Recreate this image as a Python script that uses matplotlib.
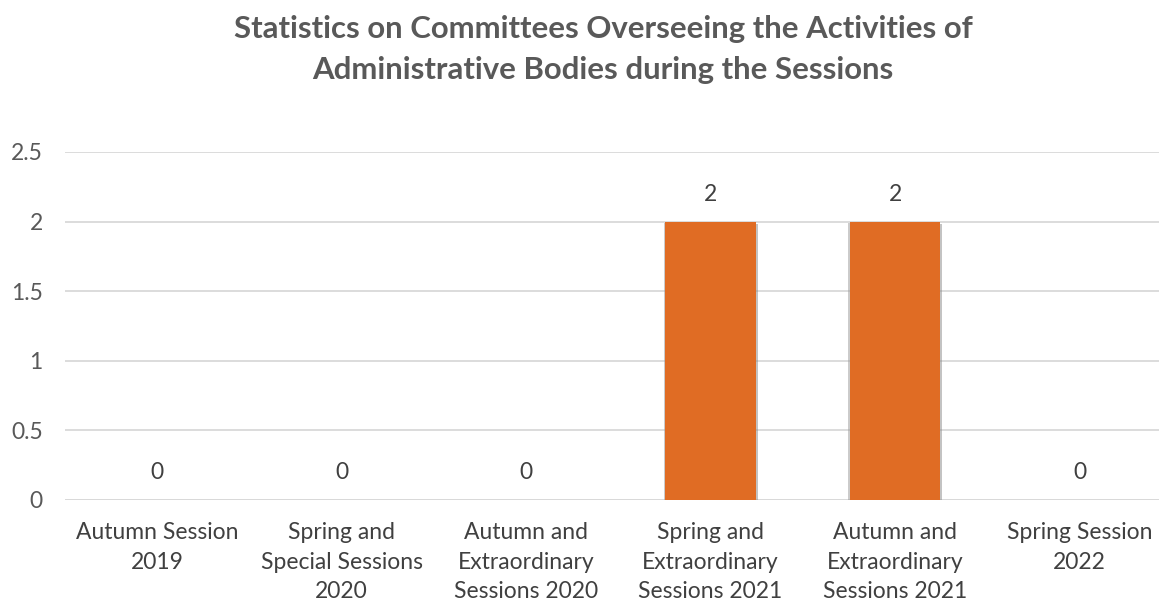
import matplotlib.pyplot as plt
import matplotlib.patheffects as pe

plt.rcParams['font.family'] = ['Lato', 'DejaVu Sans']

sessions = ['Autumn Session\n2019', 'Spring and\nSpecial Sessions\n2020',
            'Autumn and\nExtraordinary\nSessions 2020', 'Spring and\nExtraordinary\nSessions 2021',
            'Autumn and\nExtraordinary\nSessions 2021', 'Spring Session\n2022']
committees = [0, 0, 0, 2, 2, 0]
yticks = [0, 0.5, 1, 1.5, 2, 2.5]
yticklabels = ['0', '0.5', '1', '1.5', '2', '2.5']

fig = plt.figure(figsize=(11.59, 6.03), dpi=100)
ax = fig.add_axes([0.056, 0.171, 0.955, 0.577])

x = range(len(sessions))
bars = ax.bar(x, committees, width=0.49, color='#e06c24', zorder=3)
for b in bars:
    b.set_path_effects([pe.SimplePatchShadow(offset=(-1.2, -1), shadow_rgbFace='#999999', alpha=0.5),
                        pe.SimplePatchShadow(offset=(1.5, -1.5), shadow_rgbFace='#888888', alpha=0.5),
                        pe.Normal()])

# value labels above each bar
for xi, v in zip(x, committees):
    ax.annotate(str(v), (xi, v), xytext=(0, 19.5), textcoords='offset points',
                ha='center', va='center', fontsize=16.5, color='#404040')

ax.set_xlim(-0.5, len(sessions) - 0.5)
ax.set_ylim(0, 2.5)
ax.set_yticks(yticks)
ax.set_yticklabels(yticklabels)
ax.yaxis.grid(True, color='#d9d9d9', linewidth=1.3, zorder=0)
ax.set_xticks(list(x))
ax.set_xticklabels(sessions, fontsize=16.5, color='#404040', linespacing=1.5)
ax.tick_params(axis='y', labelsize=16.5, labelcolor='#595959', length=0, pad=16)
ax.tick_params(axis='x', length=0, pad=16)
for s in ['top', 'right', 'left', 'bottom']:
    ax.spines[s].set_visible(False)
ax.axhline(0, color='#d9d9d9', linewidth=1.3, zorder=1)

fig.suptitle('Statistics on Committees Overseeing the Activities of\nAdministrative Bodies during the Sessions',
             x=0.5205, y=0.975, fontsize=22.4, fontweight='bold', color='#595959', linespacing=1.55)

fig.savefig('out.png', dpi=100)
